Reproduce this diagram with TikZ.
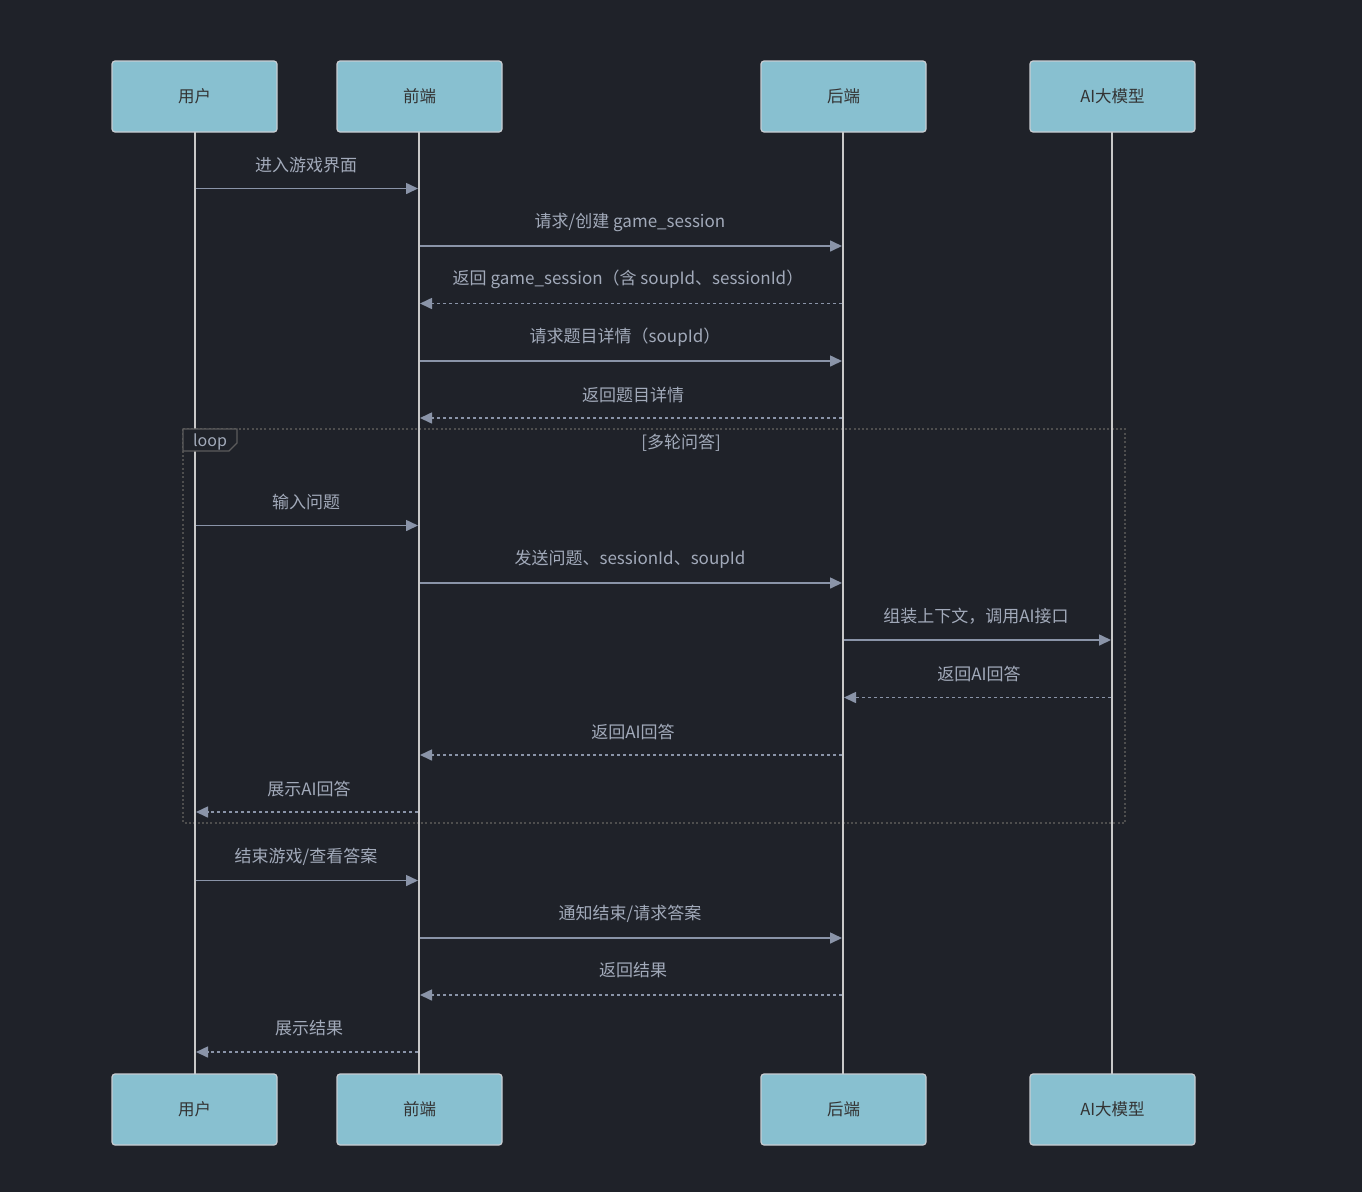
\documentclass[tikz,border=0pt]{standalone}
\usepackage{fontspec}
\setmainfont{Noto Sans CJK SC}
\usetikzlibrary{arrows.meta}
\definecolor{bg}{HTML}{1F2229}
\definecolor{actfill}{HTML}{88C0D0}
\definecolor{actdraw}{HTML}{C8CDD2}
\definecolor{life}{HTML}{C8C8C8}
\definecolor{msgline}{HTML}{8A94A8}
\definecolor{msgtext}{HTML}{A2AABA}
\definecolor{loopline}{HTML}{4E4E4E}
\definecolor{tabline}{HTML}{5C5C5C}
\tikzset{
  actor/.style={draw=actdraw, line width=1.2pt, fill=actfill, rounded corners=3pt,
    minimum width=165pt, minimum height=71pt, inner sep=0pt,
    font=\fontsize{16.5}{20}\selectfont, text=black!80},
  lifeline/.style={draw=life, line width=2pt},
  syncmsg/.style={draw=msgline, line width=1.6pt, -{Triangle[length=12pt,width=11pt]}},
  replymsg/.style={draw=msgline, line width=1.6pt, dash pattern=on 3pt off 3pt, -{Triangle[length=12pt,width=11pt]}},
  msglabel/.style={text=msgtext, font=\fontsize{17}{20}\selectfont, inner sep=0pt},
  loopbox/.style={draw=loopline, line width=2pt, dash pattern=on 2pt off 2.3pt},
}
\begin{document}
\begin{tikzpicture}[x=1pt,y=-1pt]
\fill[bg] (0,0) rectangle (1362,1192);
\useasboundingbox (0,0) rectangle (1362,1192);

% loop frame (under lifelines)
\coordinate (loopTL) at (183,429);
\coordinate (loopBR) at (1125,823);
\draw[loopbox] (loopTL) rectangle (loopBR);

% actors top
\node[actor] (uT) at (194.5,96.5) {用户};
\node[actor] (fT) at (419.5,96.5) {前端};
\node[actor] (bT) at (843.5,96.5) {后端};
\node[actor] (aT) at (1112.5,96.5) {AI大模型};

% lifelines
\coordinate (uL1) at (195,132); \coordinate (uL2) at (195,1074);
\coordinate (fL1) at (419,132); \coordinate (fL2) at (419,1074);
\coordinate (bL1) at (843,132); \coordinate (bL2) at (843,1074);
\coordinate (aL1) at (1112,132); \coordinate (aL2) at (1112,1074);
\draw[lifeline] (uL1) -- (uL2);
\draw[lifeline] (fL1) -- (fL2);
\draw[lifeline] (bL1) -- (bL2);
\draw[lifeline] (aL1) -- (aL2);

% loop tab (over lifelines)
\draw[draw=tabline, line width=1.2pt, fill=bg] (183,429) -- (237,429) -- (237,443) -- (229,451) -- (183,451) -- cycle;
\node[text=msgtext, font=\fontsize{16}{19}\selectfont, inner sep=0pt] (looplbl) at (210,442) {loop};
\node[msglabel] (loopcond) at (681,443) {[多轮问答]};

% bottom actors
\node[actor] (uB) at (194.5,1109.5) {用户};
\node[actor] (fB) at (419.5,1109.5) {前端};
\node[actor] (bB) at (843.5,1109.5) {后端};
\node[actor] (aB) at (1112.5,1109.5) {AI大模型};

% messages
\coordinate (m1s) at (196,188.5); \coordinate (m1e) at (418,188.5);
\draw[syncmsg] (m1s) -- (m1e);
\node[msglabel] (l1) at (306,165.5) {进入游戏界面};

\coordinate (m2s) at (420,246); \coordinate (m2e) at (842,246);
\draw[syncmsg] (m2s) -- (m2e);
\node[msglabel] (l2) at (630,222.5) {请求/创建 game\_session};

\coordinate (m3s) at (842,303.5); \coordinate (m3e) at (420,303.5);
\draw[replymsg] (m3s) -- (m3e);
\node[msglabel] (l3) at (628,279.5) {返回 game\_session（含 soupId、sessionId）};

\coordinate (m4s) at (420,361); \coordinate (m4e) at (842,361);
\draw[syncmsg] (m4s) -- (m4e);
\node[msglabel] (l4) at (625,337.5) {请求题目详情（soupId）};

\coordinate (m5s) at (842,418); \coordinate (m5e) at (420,418);
\draw[replymsg] (m5s) -- (m5e);
\node[msglabel] (l5) at (633,394.5) {返回题目详情};

\coordinate (m6s) at (196,525.5); \coordinate (m6e) at (418,525.5);
\draw[syncmsg] (m6s) -- (m6e);
\node[msglabel] (l6) at (306,502.5) {输入问题};

\coordinate (m7s) at (420,583); \coordinate (m7e) at (842,583);
\draw[syncmsg] (m7s) -- (m7e);
\node[msglabel] (l7) at (630,559.5) {发送问题、sessionId、soupId};

\coordinate (m8s) at (844,640); \coordinate (m8e) at (1111,640);
\draw[syncmsg] (m8s) -- (m8e);
\node[msglabel] (l8) at (976,616.5) {组装上下文，调用AI接口};

\coordinate (m9s) at (1111,697.5); \coordinate (m9e) at (844,697.5);
\draw[replymsg] (m9s) -- (m9e);
\node[msglabel] (l9) at (979,673.5) {返回AI回答};

\coordinate (m10s) at (842,755); \coordinate (m10e) at (420,755);
\draw[replymsg] (m10s) -- (m10e);
\node[msglabel] (l10) at (633,731.5) {返回AI回答};

\coordinate (m11s) at (418,812); \coordinate (m11e) at (196,812);
\draw[replymsg] (m11s) -- (m11e);
\node[msglabel] (l11) at (309,788.5) {展示AI回答};

\coordinate (m12s) at (196,880.5); \coordinate (m12e) at (418,880.5);
\draw[syncmsg] (m12s) -- (m12e);
\node[msglabel] (l12) at (306,856.5) {结束游戏/查看答案};

\coordinate (m13s) at (420,938); \coordinate (m13e) at (842,938);
\draw[syncmsg] (m13s) -- (m13e);
\node[msglabel] (l13) at (630,913.5) {通知结束/请求答案};

\coordinate (m14s) at (842,995); \coordinate (m14e) at (420,995);
\draw[replymsg] (m14s) -- (m14e);
\node[msglabel] (l14) at (633,970.5) {返回结果};

\coordinate (m15s) at (418,1052); \coordinate (m15e) at (196,1052);
\draw[replymsg] (m15s) -- (m15e);
\node[msglabel] (l15) at (309,1028.5) {展示结果};
\end{tikzpicture}
\end{document}
